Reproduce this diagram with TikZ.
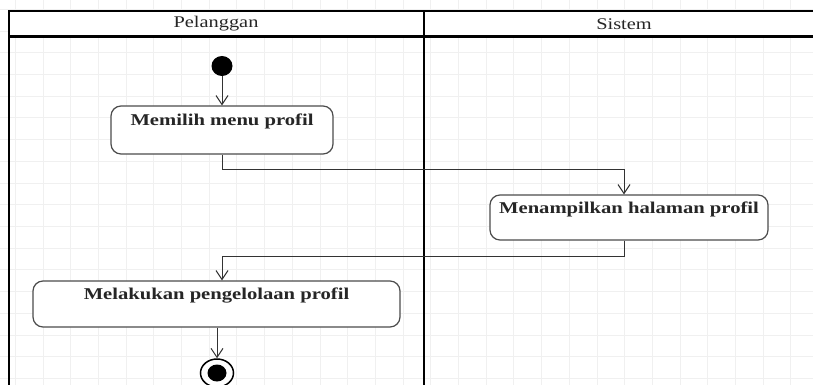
\documentclass[tikz,border=0pt]{standalone}
\usepackage{fontspec}
\setmainfont{Liberation Serif}
\newfontfamily\diagfont[FakeStretch=1.25]{Liberation Serif}
\usetikzlibrary{arrows.meta,calc,shapes.geometric}

\tikzset{
  frame/.style={line width=2.4pt, black},
  gridline/.style={line width=0.6pt, black!6},
  actbox/.style={draw=black!70, line width=1.2pt, fill=white, rounded corners=10pt,
                 minimum height=#1, inner sep=0pt},
  acttext/.style={font=\diagfont\fontsize{16.5}{18}\selectfont\bfseries, text=black!85,
                  inner sep=0pt},
  lanetext/.style={font=\diagfont\fontsize{16.3}{18}\selectfont, text=black!85, inner sep=0pt},
  flow/.style={draw=black!80, line width=1pt,
               -{Straight Barb[length=9pt,width=12pt,line width=1pt]}},
  link/.style={draw=black!80, line width=1pt},
  startdot/.style={ellipse, fill=black, minimum width=21pt, minimum height=20pt, inner sep=0pt},
  endring/.style={ellipse, draw=black, line width=1.5pt, fill=white,
                  minimum width=33pt, minimum height=28pt, inner sep=0pt},
  enddot/.style={ellipse, fill=black, minimum width=19pt, minimum height=17pt, inner sep=0pt},
}

\begin{document}
\begin{tikzpicture}[x=1pt, y=-1pt]
  \useasboundingbox (0,0) rectangle (813,385);
  \clip (0,0) rectangle (813,385);
  \fill[white] (0,0) rectangle (813,385);

  % background grid
  \foreach \gx in {0,...,29} {
    \draw[gridline] ({15.1+27.7*\gx},0) -- ({15.1+27.7*\gx},385);
  }
  \foreach \gy in {0,...,17} {
    \draw[gridline] (0,{9.3+21.7*\gy}) -- (813,{9.3+21.7*\gy});
  }

  % swimlanes
  \fill[white] (9,11) rectangle (826,36.5);
  \draw[frame] (9,400) -- (9,11) -- (826,11);
  \draw[frame] (9,36.5) -- (826,36.5);
  \draw[frame] (424,11) -- (424,400);
  \node[lanetext] (laneA) at (216,24) {Pelanggan};
  \node[lanetext] (laneB) at (624,24) {Sistem};

  % activities
  \node[startdot] (start) at (222,66) {};

  \node[actbox=48pt, minimum width=222pt] (a1) at (222,130) {};
  \node[acttext] (a1t) at ($(a1.north)+(0,16)$) {Memilih menu profil};

  \node[actbox=45pt, minimum width=278pt] (a2) at (629,217.5) {};
  \node[acttext] (a2t) at ($(a2.north)+(0,15)$) {Menampilkan halaman profil};

  \node[actbox=46pt, minimum width=367pt] (a3) at (216.5,304) {};
  \node[acttext] (a3t) at ($(a3.north)+(0,15)$) {Melakukan pengelolaan profil};

  \node[endring] (stop) at (217,373) {};
  \node[enddot] (stopdot) at (stop.center) {};

  % control flow
  \draw[flow] (start) -- (a1.north);
  \coordinate (b1) at ($(a1.south)+(0,15)$);
  \draw[link] (a1.south) -- (b1);
  \draw[flow] (b1) -| ([xshift=-5pt]a2.north);
  \coordinate (b2) at ($([xshift=-5pt]a2.south)+(0,16)$);
  \draw[link] ([xshift=-5pt]a2.south) -- (b2);
  \draw[flow] (b2) -| ([xshift=5.5pt]a3.north);
  \draw[flow] ([xshift=0.5pt]a3.south) -- (stop.north);
\end{tikzpicture}
\end{document}
